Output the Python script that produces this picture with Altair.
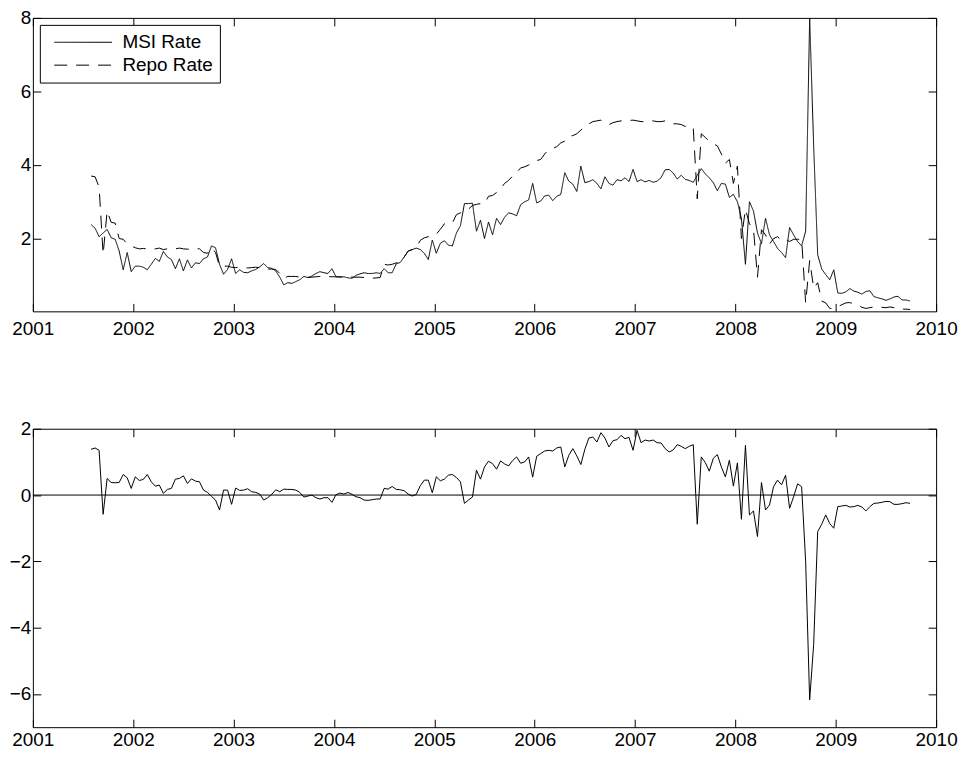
import altair as alt
import pandas as pd

# observation dates (decimal years, fortnightly sampling)
year = [round(2001.58 + 0.04 * i, 2) for i in range(205)]

msi_rate = [
    2.38, 2.28, 2.05, 2.15, 2.25, 2.02, 1.98, 1.66, 1.15, 1.62,
    1.10, 1.25, 1.25, 1.22, 1.15, 1.30, 1.46, 1.38, 1.65, 1.50,
    1.43, 1.18, 1.45, 1.12, 1.42, 1.20, 1.34, 1.32, 1.45, 1.50,
    1.80, 1.75, 1.30, 1.03, 1.16, 1.45, 1.05, 1.15, 1.08, 1.07,
    1.12, 1.16, 1.23, 1.32, 1.21, 1.19, 1.12, 0.95, 0.74, 0.80,
    0.78, 0.83, 0.88, 0.97, 0.94, 0.98, 1.05, 1.10, 1.07, 1.05,
    1.18, 0.96, 0.95, 0.96, 0.93, 0.92, 1.00, 1.04, 1.07, 1.05,
    1.05, 1.07, 1.05, 1.18, 1.07, 1.07, 1.31, 1.35, 1.50, 1.66,
    1.70, 1.74, 1.70, 1.60, 1.43, 1.96, 1.60, 1.87, 1.94, 1.82,
    1.80, 2.15, 2.35, 2.95, 2.95, 2.96, 2.20, 2.50, 2.00, 2.45,
    2.10, 2.55, 2.38, 2.58, 2.70, 2.67, 2.62, 2.92, 3.00, 3.05,
    3.50, 2.97, 3.02, 3.16, 3.18, 3.03, 3.15, 3.20, 3.79, 3.56,
    3.48, 3.28, 3.97, 3.52, 3.55, 3.60, 3.50, 3.35, 3.68, 3.50,
    3.45, 3.60, 3.57, 3.65, 3.55, 3.88, 3.55, 3.60, 3.54, 3.58,
    3.53, 3.56, 3.66, 3.87, 3.88, 3.78, 3.62, 3.72, 3.61, 3.58,
    3.53, 3.72, 3.90, 3.76, 3.65, 3.52, 3.30, 3.50, 3.48, 3.12,
    3.20, 3.00, 2.55, 1.30, 3.00, 2.75, 2.15, 1.86, 2.55, 2.10,
    1.92, 1.73, 1.62, 1.48, 2.30, 2.10, 1.92, 1.80, 2.20, 8.00,
    4.50, 1.56, 1.17, 1.02, 0.88, 1.15, 0.52, 0.51, 0.55, 0.64,
    0.57, 0.54, 0.49, 0.56, 0.58, 0.42, 0.39, 0.36, 0.32, 0.36,
    0.41, 0.43, 0.33, 0.33, 0.30,
]

repo_rate = [
    3.70, 3.68, 3.40, 1.57, 2.75, 2.44, 2.42, 2.00, 1.98, 1.85,
    1.80, 1.75, 1.72, 1.73, 1.72, 1.71, 1.72, 1.74, 1.70, 1.72,
    1.73, 1.72, 1.74, 1.72, 1.71, 1.72, 1.73, 1.72, 1.62, 1.60,
    1.75, 1.62, 1.25, 1.25, 1.25, 1.22, 1.21, 1.22, 1.21, 1.20,
    1.21, 1.22, 1.21, 1.18, 1.17, 1.17, 1.16, 1.05, 0.92, 0.97,
    0.97, 0.97, 0.95, 0.94, 0.94, 0.95, 0.96, 0.97, 0.98, 0.97,
    0.96, 0.96, 0.96, 0.96, 0.97, 0.95, 0.95, 0.95, 0.94, 0.93,
    0.92, 0.93, 0.94, 1.30, 1.28, 1.30, 1.34, 1.34, 1.50, 1.66,
    1.70, 1.74, 1.95, 2.02, 2.05, 2.05, 2.12, 2.25, 2.40, 2.42,
    2.42, 2.65, 2.70, 2.72, 2.80, 2.90, 2.93, 2.95, 2.95, 3.15,
    3.17, 3.25, 3.35, 3.50, 3.58, 3.70, 3.80, 3.92, 3.95, 4.00,
    4.05, 4.12, 4.15, 4.30, 4.42, 4.45, 4.50, 4.60, 4.65, 4.78,
    4.80, 4.85, 4.95, 5.05, 5.12, 5.18, 5.20, 5.22, 5.15, 5.10,
    5.15, 5.18, 5.20, 5.20, 5.21, 5.22, 5.20, 5.18, 5.18, 5.20,
    5.20, 5.18, 5.18, 5.20, 5.15, 5.12, 5.12, 5.10, 5.05, 5.00,
    5.02, 3.08, 4.85, 4.75, 4.65, 4.58, 4.52, 4.30, 4.05, 4.15,
    3.50, 3.97, 2.00, 2.80, 2.40, 2.27, 0.95, 2.24, 2.10, 1.85,
    2.00, 2.05, 1.95, 1.98, 1.92, 1.98, 1.98, 1.98, 0.25, 1.40,
    0.65, 0.80, 0.30, 0.25, 0.10, 0.10, 0.15, 0.20, 0.25, 0.26,
    0.22, 0.20, 0.13, 0.10, 0.12, 0.14, 0.14, 0.13, 0.12, 0.14,
    0.12, 0.10, 0.08, 0.08, 0.07,
]

spread = [
    1.38, 1.42, 1.35, -0.58, 0.50, 0.38, 0.37, 0.38, 0.62, 0.52,
    0.20, 0.55, 0.44, 0.47, 0.62, 0.40, 0.27, 0.30, 0.05, 0.17,
    0.20, 0.48, 0.50, 0.58, 0.35, 0.49, 0.42, 0.40, 0.15, 0.08,
    -0.04, -0.15, -0.45, 0.15, 0.15, -0.28, 0.21, 0.14, 0.15, 0.19,
    0.10, 0.08, 0.03, -0.15, -0.08, 0.02, 0.16, 0.10, 0.18, 0.17,
    0.17, 0.15, 0.08, -0.06, -0.03, 0.00, -0.08, -0.12, -0.08, -0.08,
    -0.22, 0.01, 0.06, 0.03, 0.08, 0.02, -0.05, -0.08, -0.15, -0.16,
    -0.14, -0.12, -0.12, 0.20, 0.18, 0.26, 0.17, 0.16, 0.13, 0.03,
    -0.03, 0.02, 0.28, 0.45, 0.45, 0.07, 0.55, 0.43, 0.48, 0.60,
    0.62, 0.53, 0.40, -0.25, -0.15, -0.06, 0.75, 0.48, 0.85, 1.02,
    0.95, 0.78, 1.03, 0.94, 0.88, 1.04, 1.15, 0.96, 1.00, 1.15,
    0.54, 1.17, 1.25, 1.33, 1.35, 1.33, 1.42, 1.45, 0.85, 1.20,
    1.40, 1.18, 0.92, 1.38, 1.72, 1.75, 1.60, 1.88, 1.72, 1.45,
    1.64, 1.67, 1.80, 1.70, 1.74, 1.35, 1.95, 1.58, 1.66, 1.63,
    1.66, 1.58, 1.57, 1.40, 1.30, 1.36, 1.52, 1.47, 1.40, 1.47,
    1.52, -0.88, 1.15, 0.98, 0.72, 1.11, 1.22, 0.85, 0.55, 1.05,
    0.27, 0.97, -0.73, 1.50, -0.60, -0.48, -1.25, 0.38, -0.45, -0.30,
    0.25, 0.45, 0.31, 0.60, -0.40, -0.05, 0.34, 0.25, -2.00, -6.18,
    -4.50, -1.10, -0.88, -0.60, -0.86, -1.00, -0.35, -0.33, -0.31, -0.36,
    -0.35, -0.31, -0.36, -0.48, -0.35, -0.25, -0.24, -0.22, -0.19, -0.20,
    -0.28, -0.28, -0.26, -0.23, -0.25,
]

series_names = ["MSI Rate", "Repo Rate"]
x_ticks = list(range(2001, 2011))
top_ticks = [2, 4, 6, 8]
bot_ticks = [-6, -4, -2, 0, 2]

n = len(year)
top_df = pd.DataFrame({
    "year": year + year,
    "rate": msi_rate + repo_rate,
    "series": [series_names[0]] * n + [series_names[1]] * n,
})
bot_df = pd.DataFrame({"year": year, "spread": spread})
zero_df = pd.DataFrame({"z": [0]})

FONT = "Liberation Sans"
FS = 19
W = 908
H_TOP, H_BOT = 295, 300

xscale = alt.Scale(domain=[2001, 2010], nice=False, zero=False)
top_y = alt.Scale(domain=[0.02, 8], nice=False, zero=False)
bot_y = alt.Scale(domain=[-7, 2], nice=False, zero=False)


def label_axis(values, pad, fmt=None):
    kw = dict(values=values, ticks=False, domain=False, grid=False,
              labelPadding=pad, labelFont=FONT, labelFontSize=FS,
              labelColor="black", title=None, labelFlush=False,
              labelOverlap=False)
    if fmt:
        kw["format"] = fmt
    return alt.Axis(**kw)


def tick_axis(values, orient):
    return alt.Axis(values=values, labels=False, domain=False, grid=False,
                    ticks=True, tickSize=8, tickColor="black", tickWidth=1,
                    offset=-8, orient=orient, title=None)


def ticks_layers(df, xfield, yfield, yscale, yvals):
    b = alt.Chart(df).mark_point(opacity=0, size=1).encode(
        x=alt.X(f"{xfield}:Q", scale=xscale, axis=tick_axis(x_ticks, "bottom")),
        y=alt.Y(f"{yfield}:Q", scale=yscale, axis=tick_axis(yvals, "left")),
    )
    t = alt.Chart(df).mark_point(opacity=0, size=1).encode(
        x=alt.X(f"{xfield}:Q", scale=xscale, axis=tick_axis(x_ticks, "top")),
        y=alt.Y(f"{yfield}:Q", scale=yscale, axis=tick_axis(yvals, "right")),
    )
    return b, t


# ---- top panel
lines = alt.Chart(top_df).mark_line(clip=True, color="black", strokeWidth=1).encode(
    x=alt.X("year:Q", scale=xscale, axis=label_axis(x_ticks, 8, "d")),
    y=alt.Y("rate:Q", scale=top_y, axis=label_axis(top_ticks, 2)),
    strokeDash=alt.StrokeDash(
        "series:N",
        scale=alt.Scale(domain=series_names, range=[[1, 0], [13, 9]]),
        legend=alt.Legend(
            orient="none", legendX=7, legendY=7, title=None,
            symbolType="M-2.9,0H2.9", symbolSize=400, symbolStrokeWidth=1,
            symbolStrokeColor="black", labelFont=FONT, labelFontSize=FS,
            labelColor="black", strokeColor="black", fillColor="white",
            padding=7, rowPadding=2, symbolOffset=26, labelOffset=29,
        ),
    ),
)
tb, tt = ticks_layers(top_df, "year", "rate", top_y, top_ticks)
top = alt.layer(lines, tb, tt).resolve_axis(x="independent", y="independent").properties(width=W, height=H_TOP)

# ---- bottom panel
sline = alt.Chart(bot_df).mark_line(clip=True, color="black", strokeWidth=1).encode(
    x=alt.X("year:Q", scale=xscale, axis=label_axis(x_ticks, 3, "d")),
    y=alt.Y("spread:Q", scale=bot_y, axis=label_axis(bot_ticks, 2)),
)
zero = alt.Chart(zero_df).mark_rule(color="black", strokeWidth=1).encode(
    y=alt.Y("z:Q", scale=bot_y, axis=None)
)
bb, bt = ticks_layers(bot_df, "year", "spread", bot_y, bot_ticks)
bottom = alt.layer(sline, zero, bb, bt).resolve_axis(x="independent", y="independent").properties(width=W, height=H_BOT)

chart = alt.vconcat(top, bottom, spacing=80).properties(
    padding={"left": 0, "top": -2, "right": 2, "bottom": 0},
    background="white",
).configure_view(stroke="black", strokeWidth=1).configure_concat(spacing=80)

chart.save("out.html", embed_options={"renderer": "svg", "actions": False})
